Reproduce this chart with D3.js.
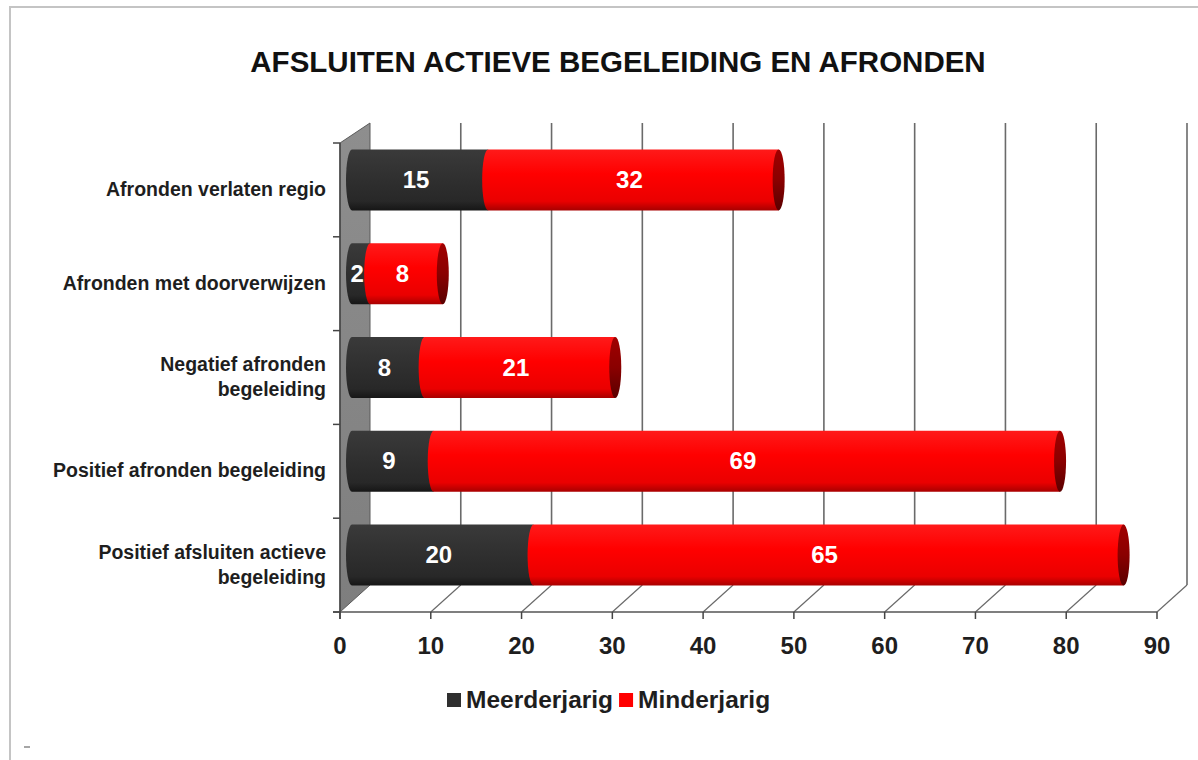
<!DOCTYPE html>
<meta charset="utf-8">
<style>
body { margin: 0; background: #fff; }
svg { display: block; font-family: Arial, "Liberation Sans", sans-serif; }
.cat { font-size: 19.5px; font-weight: bold; fill: #1e1e1e; }
.tick-lbl { font-size: 24px; font-weight: bold; fill: #1e1e1e; }
.val { font-size: 24px; font-weight: bold; fill: #fff; }
.leg { font-size: 24.5px; font-weight: bold; fill: #1e1e1e; }
</style>
<body>
<script src="https://cdn.jsdelivr.net/npm/d3@7"></script>
<script>
// data, top to bottom as in the picture
var categories = [
  ["Afronden verlaten regio"],
  ["Afronden met doorverwijzen"],
  ["Negatief afronden", "begeleiding"],
  ["Positief afronden begeleiding"],
  ["Positief afsluiten actieve", "begeleiding"]
];
var meerderjarig = [15, 2, 8, 9, 20];
var minderjarig = [32, 8, 21, 69, 65];
var seriesNames = ["Meerderjarig", "Minderjarig"];
var xTicks = [0, 10, 20, 30, 40, 50, 60, 70, 80, 90];

var width = 1198, height = 760;
var depthX = 30, depthY = -27;   // offset of the back plane
var barShift = 12, barLift = -10, barH = 61, capRx = 6;

var svg = d3.select("body").append("svg")
    .attr("width", width)
    .attr("height", height);

var defs = svg.append("defs");
function vgrad(id, stops) {
  var g = defs.append("linearGradient").attr("id", id)
      .attr("x1", 0).attr("y1", 0).attr("x2", 0).attr("y2", 1);
  stops.forEach(function(s) {
    g.append("stop").attr("offset", s[0]).attr("stop-color", s[1]);
  });
}
vgrad("gDark", [[0, "#3a3a3a"], [0.45, "#303030"], [0.85, "#282828"], [1, "#161616"]]);
vgrad("gRed", [[0, "#ff1a1a"], [0.4, "#ff0000"], [0.85, "#ea0000"], [1, "#a80000"]]);
vgrad("gCap", [[0, "#a00000"], [0.5, "#8a0000"], [1, "#5a0000"]]);
vgrad("gWall", [[0, "#8e8e8e"], [1, "#7e7e7e"]]);

// frame
svg.append("line").attr("x1", 9).attr("x2", width).attr("y1", 7).attr("y2", 7)
    .attr("stroke", "#c4c4c4").attr("stroke-width", 2);
svg.append("line").attr("x1", 10).attr("x2", 10).attr("y1", 6).attr("y2", height)
    .attr("stroke", "#c4c4c4").attr("stroke-width", 2);
svg.append("line").attr("x1", 24).attr("x2", 30).attr("y1", 747).attr("y2", 747)
    .attr("stroke", "#888").attr("stroke-width", 1.5);

svg.append("text")
    .attr("x", 618).attr("y", 72)
    .attr("text-anchor", "middle")
    .style("font-size", "29.5px").style("font-weight", "bold").style("fill", "#111")
    .text("AFSLUITEN ACTIEVE BEGELEIDING EN AFRONDEN");

var x = d3.scaleLinear().domain([0, 90]).range([340, 1157]);
var y = d3.scaleBand().domain(d3.range(categories.length)).range([143, 612]);
var y0 = y.range()[0], y1 = y.range()[1];

// left wall
svg.append("path")
    .attr("d", "M" + x(0) + "," + y0 + "L" + (x(0) + depthX) + "," + (y0 - 20) +
      "L" + (x(0) + depthX) + "," + (y1 + depthY) + "L" + x(0) + "," + y1 + "Z")
    .attr("fill", "url(#gWall)").attr("stroke", "#5a5a5a").attr("stroke-width", 1);

// back gridlines
svg.append("g").selectAll("line").data(xTicks.slice(1)).enter().append("line")
    .attr("x1", function(d) { return x(d) + depthX; })
    .attr("x2", function(d) { return x(d) + depthX; })
    .attr("y1", y0 - 20).attr("y2", y1 + depthY)
    .attr("stroke", "#6a6a6a").attr("stroke-width", 1.6);

// floor diagonals
svg.append("g").selectAll("line").data(xTicks.slice(1)).enter().append("line")
    .attr("x1", function(d) { return x(d); })
    .attr("x2", function(d) { return x(d) + depthX; })
    .attr("y1", y1).attr("y2", y1 + depthY)
    .attr("stroke", "#6a6a6a").attr("stroke-width", 1.2);

// front axes
svg.append("line").attr("x1", x(0) - 7).attr("x2", x(90)).attr("y1", y1).attr("y2", y1)
    .attr("stroke", "#555").attr("stroke-width", 1.5);
svg.append("line").attr("x1", x(0)).attr("x2", x(0)).attr("y1", y0).attr("y2", y1 + 7)
    .attr("stroke", "#444").attr("stroke-width", 1.5);
svg.append("g").selectAll("line").data(xTicks).enter().append("line")
    .attr("x1", function(d) { return x(d); }).attr("x2", function(d) { return x(d); })
    .attr("y1", y1).attr("y2", y1 + 7)
    .attr("stroke", "#444").attr("stroke-width", 1.5);
svg.append("g").selectAll("line").data(d3.range(categories.length + 1)).enter().append("line")
    .attr("x1", x(0) - 7).attr("x2", x(0))
    .attr("y1", function(i) { return y0 + i * y.bandwidth(); })
    .attr("y2", function(i) { return y0 + i * y.bandwidth(); })
    .attr("stroke", "#444").attr("stroke-width", 1.5);

svg.append("g").selectAll("text").data(xTicks).enter().append("text")
    .attr("class", "tick-lbl")
    .attr("x", function(d) { return x(d); }).attr("y", 654)
    .attr("text-anchor", "middle")
    .text(function(d) { return d; });

// category labels
categories.forEach(function(lines, i) {
  var cy = y(i) + y.bandwidth() / 2;
  var t = svg.append("text").attr("class", "cat")
      .attr("text-anchor", "end")
      .attr("x", 326)
      .attr("y", cy + 6 - (lines.length - 1) * 12.5);
  lines.forEach(function(l, k) {
    t.append("tspan").attr("x", 326).attr("dy", k ? 25 : 0).text(l);
  });
});

// cylinders
var bx = function(v) { return x(v) + barShift; };
categories.forEach(function(c, i) {
  var top = y(i) + y.bandwidth() / 2 + barLift - barH / 2;
  var segs = [
    { a: 0, b: meerderjarig[i], fill: "url(#gDark)", v: meerderjarig[i] },
    { a: meerderjarig[i], b: meerderjarig[i] + minderjarig[i], fill: "url(#gRed)", v: minderjarig[i] }
  ];
  var g = svg.append("g");
  segs.forEach(function(s) {
    var xa = bx(s.a), xb = bx(s.b);
    g.append("path")
        .attr("d", "M" + xb + "," + top + "L" + xa + "," + top +
          "A" + capRx + "," + (barH / 2) + " 0 0 0 " + xa + "," + (top + barH) +
          "L" + xb + "," + (top + barH) + "Z")
        .attr("fill", s.fill);
  });
  var end = bx(segs[1].b);
  g.append("ellipse")
      .attr("cx", end).attr("cy", top + barH / 2)
      .attr("rx", capRx).attr("ry", barH / 2)
      .attr("fill", "url(#gCap)");
  segs.forEach(function(s) {
    g.append("text").attr("class", "val")
        .attr("x", (bx(s.a) + bx(s.b)) / 2 - 4)
        .attr("y", top + barH / 2 + 8)
        .attr("text-anchor", "middle")
        .text(s.v);
  });
});

// legend
var leg = svg.append("g");
var legColors = ["#2f2f2f", "#ff0000"];
var lx = 447;
seriesNames.forEach(function(n, i) {
  leg.append("rect").attr("x", lx).attr("y", 693).attr("width", 14).attr("height", 14)
      .attr("fill", legColors[i]);
  var t = leg.append("text").attr("class", "leg").attr("x", lx + 19).attr("y", 708).text(n);
  lx += 19 + t.node().getComputedTextLength() + 6;
});
</script>
</body>
